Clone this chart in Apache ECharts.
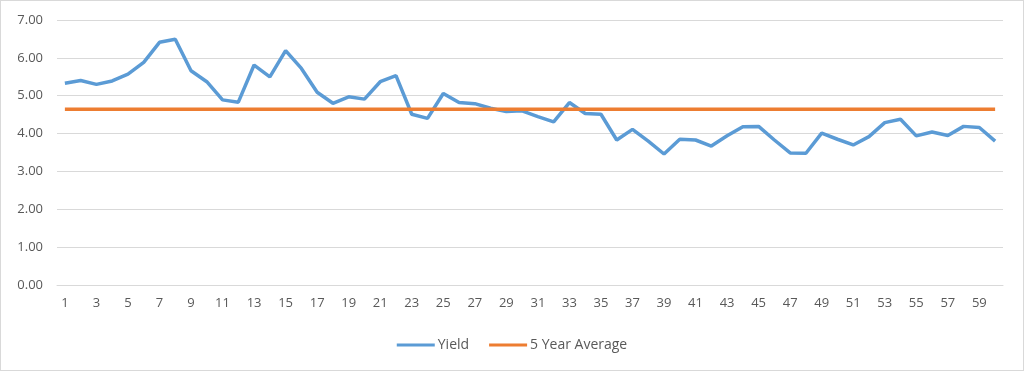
<!DOCTYPE html>
<html><head><meta charset="utf-8">
<script src="https://cdn.jsdelivr.net/npm/echarts@6/dist/echarts.min.js"></script>
<style>html,body{margin:0;padding:0;background:#fff}#c{width:1024px;height:371px;box-sizing:border-box;border:1px solid #d9d9d9}</style>
</head><body><div id="c"></div>
<script>
const categories = Array.from({length:60},(_,i)=>String(i+1));
const yieldValues = [5.33,5.40,5.30,5.39,5.57,5.88,6.41,6.49,5.66,5.37,
 4.89,4.83,5.81,5.50,6.19,5.72,5.09,4.80,4.97,4.91,
 5.37,5.53,4.51,4.40,5.06,4.82,4.79,4.67,4.58,4.60,
 4.45,4.31,4.82,4.53,4.51,3.83,4.11,3.80,3.46,3.85,
 3.83,3.67,3.94,4.18,4.19,3.83,3.49,3.48,4.01,3.85,
 3.70,3.92,4.29,4.38,3.94,4.04,3.95,4.19,4.16,3.80];
const averageValue = 4.64;
const averageValues = categories.map(()=>averageValue);
const yTicks = {min:0,max:7,interval:1};

const chart = echarts.init(document.getElementById('c'),null,{renderer:'canvas'});
const font = 'Open Sans, Noto Sans, sans-serif';
chart.setOption({
  animation:false,
  grid:{left:56,right:20,top:19,bottom:85},
  legend:{bottom:13,left:'center',itemWidth:38,itemHeight:3,itemGap:20,icon:'rect',
    textStyle:{color:'#595959',fontSize:14,fontFamily:font,padding:[0,0,0,-2]},
    data:['Yield','5 Year Average']},
  xAxis:{type:'category',data:categories,boundaryGap:true,
    axisLine:{lineStyle:{color:'#d9d9d9'}},axisTick:{show:false},
    axisLabel:{interval:1,color:'#595959',fontSize:13,fontFamily:font,margin:12}},
  yAxis:{type:'value',min:yTicks.min,max:yTicks.max,interval:yTicks.interval,
    axisLabel:{formatter:v=>v.toFixed(2),color:'#595959',fontSize:13,fontFamily:font,margin:14},
    splitLine:{lineStyle:{color:'#d9d9d9'}},axisLine:{show:false},axisTick:{show:false}},
  series:[
    {name:'Yield',type:'line',data:yieldValues,symbol:'none',lineStyle:{width:3.5,color:'#5b9bd5'},itemStyle:{color:'#5b9bd5'}},
    {name:'5 Year Average',type:'line',data:averageValues,symbol:'none',lineStyle:{width:3.5,color:'#ed7d31'},itemStyle:{color:'#ed7d31'}}
  ]
});
</script></body></html>
